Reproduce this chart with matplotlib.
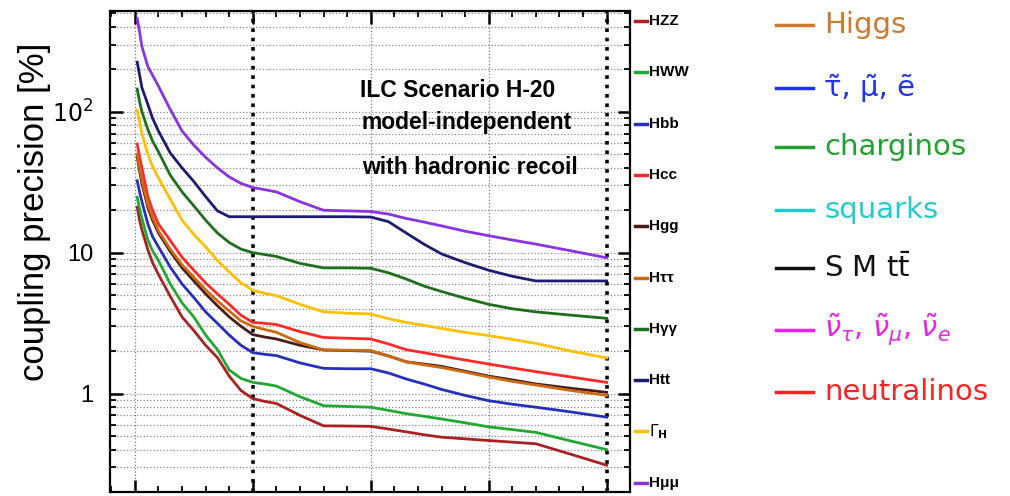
# ILC Scenario H-20: Higgs coupling precision vs. luminosity stage
import numpy as np
import matplotlib
matplotlib.use("Agg")
import matplotlib.pyplot as plt
from matplotlib.lines import Line2D
from matplotlib.ticker import FixedLocator, MultipleLocator, LogLocator, NullFormatter

# common x sampling of the curves (arbitrary run-stage units)
x_pts = [0.02, 0.04, 0.06, 0.11, 0.15, 0.2, 0.3, 0.4, 0.5, 0.6, 0.7, 0.8,
         0.9, 1.0, 1.1, 1.2, 1.4, 1.6, 1.8, 2.0, 2.15, 2.3, 2.45, 2.6,
         2.8, 3.0, 3.2, 3.4, 3.7, 4.0]

# coupling precision [%] per channel
hmumu = [460, 370, 290, 210, 182, 152, 104, 73, 58, 47.5, 40, 34.5,
         31, 29, 28, 27, 23, 20, 19.8, 19.6, 18.8, 17.5, 16.5, 15.5,
         14.2, 13.2, 12.3, 11.5, 10.3, 9.2]
htt = [225, 183, 148, 113, 90, 73, 51, 40, 32, 25, 19.8, 18.0,
       18.0, 18.0, 18.0, 18.0, 18.0, 18.0, 18.0, 17.9, 16.6, 13.8, 11.5, 9.8,
       8.5, 7.5, 6.8, 6.3, 6.3, 6.3]
hgamgam = [145, 118, 100, 75, 62, 52, 35.5, 27, 21.5, 17, 13.8, 11.8,
           10.6, 10.0, 9.7, 9.4, 8.4, 7.8, 7.8, 7.75, 7.2, 6.5, 5.8, 5.3,
           4.75, 4.3, 4.0, 3.8, 3.6, 3.42]
gamma_h = [103, 85, 70, 50, 41, 34, 24, 17, 13.5, 11, 8.8, 7.3,
           6.1, 5.4, 5.15, 4.95, 4.3, 3.8, 3.72, 3.67, 3.4, 3.2, 3.05, 2.9,
           2.72, 2.58, 2.42, 2.27, 2.0, 1.79]
hcc = [59, 48, 40, 25, 20, 16, 12.2, 9.3, 7.5, 6.1, 5.1, 4.3,
       3.6, 3.2, 3.15, 3.09, 2.75, 2.5, 2.47, 2.44, 2.25, 2.05, 1.95, 1.85,
       1.73, 1.62, 1.52, 1.43, 1.31, 1.20]
hgg = [48, 38, 31, 21, 17, 13.8, 10.2, 7.8, 6.3, 5.1, 4.2, 3.5,
       3.0, 2.62, 2.52, 2.44, 2.2, 2.04, 2.02, 2.0, 1.85, 1.68, 1.62, 1.56,
       1.44, 1.33, 1.25, 1.17, 1.09, 1.02]
htautau = [50, 40, 33, 22, 17.8, 14.3, 10.6, 8.2, 6.7, 5.45, 4.55, 3.85,
           3.28, 3.0, 2.85, 2.72, 2.3, 2.04, 2.03, 2.02, 1.85, 1.68, 1.6, 1.53,
           1.42, 1.31, 1.22, 1.15, 1.05, 0.97]
hbb = [32.4, 27, 23, 16, 13, 11, 7.9, 6.0, 4.8, 3.8, 3.15, 2.6,
       2.2, 1.95, 1.9, 1.86, 1.65, 1.51, 1.5, 1.5, 1.4, 1.27, 1.17, 1.07,
       0.97, 0.89, 0.84, 0.80, 0.74, 0.68]
hww = [24.7, 20.5, 17.5, 12.3, 10.3, 8.8, 6.0, 4.4, 3.5, 2.6, 2.05, 1.47,
       1.28, 1.2, 1.17, 1.13, 0.95, 0.82, 0.81, 0.80, 0.76, 0.72, 0.69, 0.66,
       0.62, 0.58, 0.555, 0.53, 0.46, 0.40]
hzz = [21, 17, 14.5, 10.5, 8.5, 7.0, 4.9, 3.5, 2.8, 2.2, 1.8, 1.33,
       1.05, 0.92, 0.88, 0.85, 0.7, 0.59, 0.588, 0.585, 0.56, 0.535, 0.51, 0.49,
       0.477, 0.464, 0.452, 0.44, 0.37, 0.31]

# right-hand channel labels (top to bottom) and their colours
chan_labels = ["HZZ", "HWW", "Hbb", "Hcc", "Hgg", "Hττ", "Hγγ", "Htt",
               r"$\Gamma_\mathbf{H}$", "Hμμ"]
chan_colors = ["#a82222", "#22a832", "#2630b8", "#ff2a2a", "#4a1c1c",
               "#cc6a10", "#1e6e1e", "#1c1c72", "#ffc000", "#8a33e0"]

# legend of the far right
leg_labels = ["Higgs", "τ̃, μ̃, ẽ", "charginos", "squarks", r"S M t$\bar{\rm t}$",
              r"$\tilde{\nu}_\tau$, $\tilde{\nu}_\mu$, $\tilde{\nu}_e$", "neutralinos"]
leg_colors = ["#cc7a30", "#2233ee", "#22a030", "#22cccc", "#111111",
              "#ee22ee", "#ff2222"]

fig = plt.figure(figsize=(10.1, 4.96), dpi=100)
ax = fig.add_axes([0.109, 0.008, 0.515, 0.970])

series = [hzz, hww, hbb, hcc, hgg, htautau, hgamgam, htt, gamma_h, hmumu]
for vals, col in zip(series, chan_colors):
    ax.plot(x_pts, vals, color=col, lw=2.0, zorder=3, solid_joinstyle="round")

ax.set_yscale("log")
ax.set_ylim(0.2, 520)
ax.set_xlim(-0.21, 4.2)

# ticks: inward on all four sides
ax.yaxis.set_major_locator(FixedLocator([1, 10, 100]))
ax.set_yticklabels(["1", "10", r"$10^2$"])
ax.yaxis.set_minor_locator(LogLocator(base=10, subs=np.arange(2, 10)))
ax.yaxis.set_minor_formatter(NullFormatter())
ax.xaxis.set_major_locator(MultipleLocator(1))
ax.xaxis.set_minor_locator(MultipleLocator(0.2))
ax.set_xticklabels([])
ax.tick_params(which="both", direction="in", top=True, right=True)
ax.tick_params(which="major", length=9, width=1.8, labelsize=17, pad=12)
ax.tick_params(which="minor", length=4.5, width=1.3)
for lab in ax.get_yticklabels():
    lab.set_fontfamily("Liberation Sans")

# grid
ax.yaxis.grid(True, which="both", ls=":", color="#888888", lw=0.9)
for xv in [0, 2, 3]:
    ax.axvline(xv, ls=":", color="#777777", lw=0.9, zorder=1)
for xv in [1, 4]:
    ax.axvline(xv, ls=(0, (1, 1.6)), color="black", lw=2.6, zorder=2)

for sp in ax.spines.values():
    sp.set_linewidth(1.6)

ax.set_ylabel("coupling precision [%]", fontsize=25, family="Liberation Sans")
ax.yaxis.set_label_coords(-0.113, 0.582)

# scenario text
ax.text(2.74, 141, "ILC Scenario H-20", ha="center", va="center",
        fontsize=16.5, weight="bold", family="Liberation Sans")
ax.text(2.81, 83.5, "model-independent", ha="center", va="center",
        fontsize=16.5, weight="bold", family="Liberation Sans")
ax.text(2.84, 40, "with hadronic recoil", ha="center", va="center",
        fontsize=16.5, weight="bold", family="Liberation Sans")

# channel labels to the right of the frame
for i, (lab, col) in enumerate(zip(chan_labels, chan_colors)):
    yy = 1 - (21 + i * 51.3) / 496
    fig.add_artist(Line2D([0.629, 0.641], [yy, yy], color=col, lw=2.5))
    fig.text(0.643, yy, lab, ha="left", va="center", fontsize=11,
             weight="bold", family="Liberation Sans")

# legend on the far right
leg_y = [25, 88, 147, 210, 268, 330, 392]
for yp, lab, col in zip(leg_y, leg_labels, leg_colors):
    yy = 1 - yp / 496
    fig.add_artist(Line2D([0.768, 0.805], [yy, yy], color=col, lw=2.5))
    fig.text(0.816, yy, lab, ha="left", va="center", fontsize=21, color=col)

fig.savefig("out.png", dpi=100)
plt.close(fig)
